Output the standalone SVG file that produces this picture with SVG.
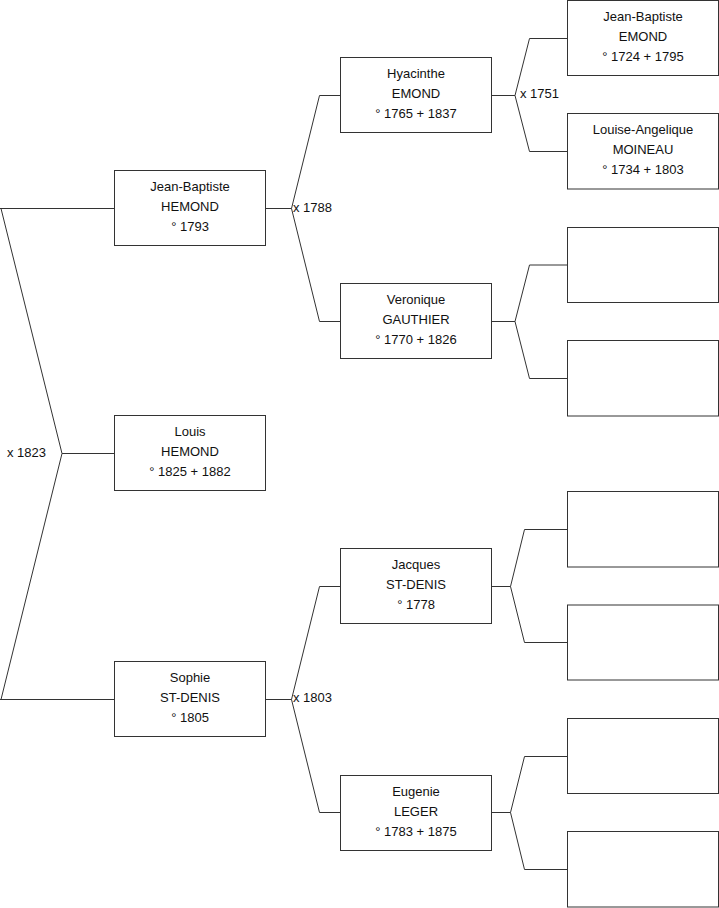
<svg xmlns="http://www.w3.org/2000/svg" width="719" height="908" viewBox="0 0 719 908">
<style>
.box{fill:#fff;stroke:#333;stroke-width:1}
.ln{fill:none;stroke:#333;stroke-width:1}
text{font-family:"Liberation Sans",Arial,sans-serif;font-size:13px;fill:#111}
.c{text-anchor:middle}
</style>
<rect width="719" height="908" fill="#fff"/>
<g id="connectors">
<path class="ln" d="M0,208.5H114.5M1,208.5L62,453.5L1,699.5M0,699.5H114.5M62,453.5H114.5"/>
<path class="ln" d="M265.5,208.5H291.5M340.5,95.5H319.5L291.5,208.5L319.5,321.5H340.5"/>
<path class="ln" d="M265.5,699.5H291.5M340.5,586.5H319.5L291.5,699.5L319.5,812.5H340.5"/>
<path class="ln" d="M491.5,95.5H515M567.5,38.5H529.5L515,95.5L529.5,151.5H567.5"/>
<path class="ln" d="M491.5,321.5H515M567.5,265H529.5L515,321.5L529.5,378.5H567.5"/>
<path class="ln" d="M491.5,586.5H510.5M567.5,529.5H524.5L510.5,586.5L524.5,642.5H567.5"/>
<path class="ln" d="M491.5,812.5H510.5M567.5,756.5H524.5L510.5,812.5L524.5,869.5H567.5"/>
<text x="7" y="456.5">x 1823</text>
<text x="293" y="211.5">x 1788</text>
<text x="520" y="97.5">x 1751</text>
<text x="293" y="702">x 1803</text>
</g>
<g id="n-jb-hemond"><rect class="box" x="114.5" y="170.5" width="151" height="75"/>
<text class="c" x="190" y="191">Jean-Baptiste</text><text class="c" x="190" y="211">HEMOND</text><text class="c" x="190" y="230.5">° 1793</text></g>
<g id="n-louis-hemond"><rect class="box" x="114.5" y="415.5" width="151" height="75"/>
<text class="c" x="190" y="436">Louis</text><text class="c" x="190" y="456">HEMOND</text><text class="c" x="190" y="475.5">° 1825 + 1882</text></g>
<g id="n-sophie"><rect class="box" x="114.5" y="661.5" width="151" height="75"/>
<text class="c" x="190" y="682">Sophie</text><text class="c" x="190" y="702">ST-DENIS</text><text class="c" x="190" y="721.5">° 1805</text></g>
<g id="n-hyacinthe"><rect class="box" x="340.5" y="57.5" width="151" height="75"/>
<text class="c" x="416" y="78">Hyacinthe</text><text class="c" x="416" y="98">EMOND</text><text class="c" x="416" y="117.5">° 1765 + 1837</text></g>
<g id="n-veronique"><rect class="box" x="340.5" y="283.5" width="151" height="75"/>
<text class="c" x="416" y="304">Veronique</text><text class="c" x="416" y="324">GAUTHIER</text><text class="c" x="416" y="343.5">° 1770 + 1826</text></g>
<g id="n-jacques"><rect class="box" x="340.5" y="548.5" width="151" height="75"/>
<text class="c" x="416" y="569">Jacques</text><text class="c" x="416" y="589">ST-DENIS</text><text class="c" x="416" y="608.5">° 1778</text></g>
<g id="n-eugenie"><rect class="box" x="340.5" y="775.5" width="151" height="75"/>
<text class="c" x="416" y="796">Eugenie</text><text class="c" x="416" y="816">LEGER</text><text class="c" x="416" y="835.5">° 1783 + 1875</text></g>
<g id="n-jb-emond"><rect class="box" x="567.5" y="0.5" width="151" height="75"/>
<text class="c" x="643" y="21">Jean-Baptiste</text><text class="c" x="643" y="41">EMOND</text><text class="c" x="643" y="60.5">° 1724 + 1795</text></g>
<g id="n-louise"><rect class="box" x="567.5" y="113.5" width="151" height="75.5"/>
<text class="c" x="643" y="134">Louise-Angelique</text><text class="c" x="643" y="154">MOINEAU</text><text class="c" x="643" y="173.5">° 1734 + 1803</text></g>
<g id="n-empty1"><rect class="box" x="567.5" y="227.5" width="151" height="75"/></g>
<g id="n-empty2"><rect class="box" x="567.5" y="340.5" width="151" height="75.5"/></g>
<g id="n-empty3"><rect class="box" x="567.5" y="491.5" width="151" height="75.5"/></g>
<g id="n-empty4"><rect class="box" x="567.5" y="605" width="151" height="75"/></g>
<g id="n-empty5"><rect class="box" x="567.5" y="718.5" width="151" height="75"/></g>
<g id="n-empty6"><rect class="box" x="567.5" y="831.5" width="151" height="75.5"/></g>
</svg>
